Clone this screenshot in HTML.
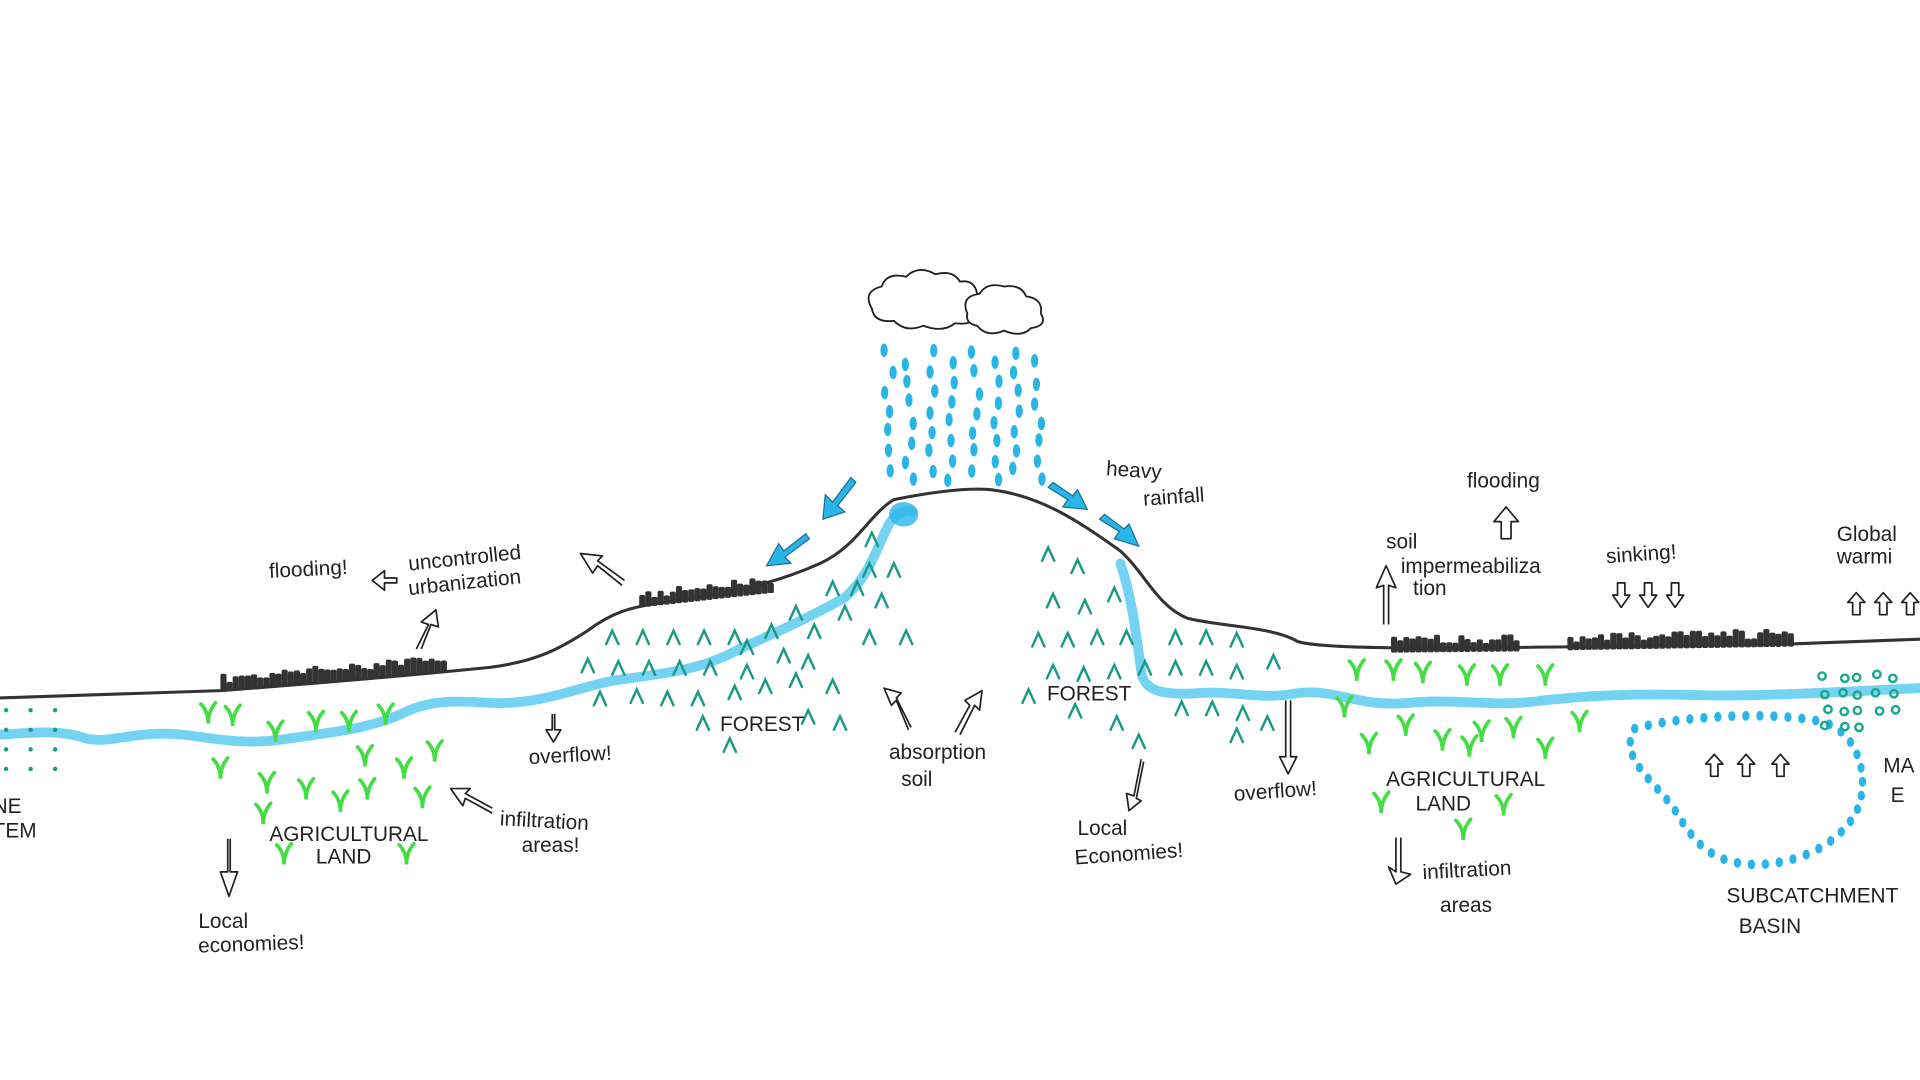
<!DOCTYPE html>
<html><head><meta charset="utf-8">
<style>
html,body{margin:0;padding:0;background:#fff;width:1920px;height:1080px;overflow:hidden}
svg{display:block}
text{font-family:"Liberation Sans",sans-serif;fill:#222;font-size:17px}
</style></head><body>
<svg id="s" width="1920" height="1080" viewBox="0 0 1568 882" preserveAspectRatio="none" xmlns="http://www.w3.org/2000/svg">
<rect width="1568" height="882" fill="#fff"/>
<!-- cloud -->
<g fill="#fff" stroke="#222" stroke-width="1.5">
<path d="M712,252 q-8,-14 8,-18 q4,-12 20,-8 q10,-10 24,-2 q14,-4 20,6 q12,-2 14,10 q10,6 2,16 q-4,10 -20,8 q-10,8 -26,2 q-14,6 -24,-4 q-16,2 -18,-10z"/>
<path d="M790,256 q-6,-14 10,-16 q6,-10 20,-6 q14,-2 18,8 q14,2 12,14 q6,10 -8,12 q-8,8 -22,2 q-14,6 -22,-4 q-10,-2 -8,-10z"/>
</g>
<!-- river -->
<g fill="none" stroke="#5ccbf0" stroke-width="8" stroke-linecap="round" stroke-linejoin="round" opacity="0.85">
<path d="M0,600 C30,598 50,596 70,603 C90,608 110,596 150,600 C180,604 200,608 230,604 C270,598 300,596 330,582 C350,572 370,572 400,574 C440,576 470,562 500,556 C540,550 570,548 600,532 C630,518 660,505 690,488 C710,470 715,450 725,430 C730,420 740,415 745,418"/>
<path d="M915,460 C925,490 928,520 932,548 C934,565 950,568 980,566 C1010,564 1030,572 1060,566 C1090,562 1110,578 1150,574 C1190,570 1220,578 1260,572 C1300,568 1330,566 1400,568 C1460,568 1520,564 1568,562"/>
</g>
<ellipse cx="738" cy="420" rx="12" ry="10" fill="#2ab5e8" opacity="0.8"/>
<!-- ground -->
<path d="M0,570 L180,564 C260,558 330,552 400,545 C440,540 460,528 480,515 C500,500 515,496 540,492 C590,486 630,478 670,460 C700,446 710,420 730,408 C760,402 790,398 810,400 C850,405 880,425 915,450 C935,468 945,495 970,505 C1000,512 1040,512 1060,524 C1080,530 1160,530 1300,528 L1460,526 L1568,522" fill="none" stroke="#333" stroke-width="2.5" stroke-linejoin="round"/>
<g id="bld" fill="#333"></g>
<g id="drops" fill="#2ab5e8"></g>
<g id="trees" fill="none" stroke="#1a9a86" stroke-width="2" stroke-linecap="round"></g>
<g id="crops" fill="none" stroke="#44dd44" stroke-width="3" stroke-linecap="round"></g>
<g id="basin" fill="#2ab5e8"></g>
<g id="marsh" fill="none" stroke="#1aa88a" stroke-width="2"></g>
<!-- blue arrows -->
<g fill="#2ab5e8" stroke="#1a6f8f" stroke-width="1">
<path d="M695,390 L680,410 L674,404 L672,424 L690,418 L684,413 L699,394z"/>
<path d="M658,436 L640,450 L636,444 L626,462 L646,460 L641,455 L661,440z"/>
<path d="M856,398 L872,408 L868,414 L888,416 L880,400 L876,405 L860,394z"/>
<path d="M898,424 L914,434 L910,440 L930,446 L922,428 L918,432 L902,420z"/>
</g>
<!-- outline arrows -->
<g fill="none" stroke="#222" stroke-width="1.4" stroke-linejoin="round">
<path d="M186,685 L186,712 L180,712 L187,732 L194,712 L188,712 L188,685"/>
<path d="M451,583 L451,596 L446,596 L452,606 L458,596 L453,596 L453,583"/>
<path d="M1050,572 L1050,618 L1045,618 L1052,632 L1059,618 L1054,618 L1054,572"/>
<path d="M932,620 L926,650 L920,648 L922,662 L932,654 L928,652 L934,622"/>
<path d="M1140,684 L1140,712 L1134,708 L1140,722 L1152,714 L1144,712 L1144,684"/>
<path d="M742,596 L732,572 L728,576 L722,562 L736,566 L732,570 L744,594"/>
<path d="M780,598 L792,576 L788,572 L802,564 L800,580 L796,576 L784,600"/>
<path d="M402,664 L380,652 L378,658 L368,644 L384,644 L380,648 L402,660"/>
<path d="M508,478 L488,462 L484,468 L474,452 L492,454 L488,458 L510,474"/>
<path d="M340,530 L350,510 L344,508 L356,498 L358,512 L352,510 L344,530"/>
<path d="M324,472 L314,472 L314,466 L304,474 L314,482 L314,476 L324,476z"/>
<path d="M1130,510 L1130,478 L1124,480 L1132,462 L1140,480 L1134,478 L1134,510"/>
<path d="M1226,440 L1226,426 L1220,426 L1230,414 L1240,426 L1234,426 L1234,440z"/>
</g>
<g id="smallarr" fill="none" stroke="#222" stroke-width="1.4" stroke-linejoin="round"></g>
<!-- labels -->
<text x="220" y="472" transform="rotate(-3 220 472)">flooding!</text>
<text x="334" y="466" transform="rotate(-6 334 466)">uncontrolled</text>
<text x="334" y="486" transform="rotate(-6 334 486)">urbanization</text>
<text x="432" y="624" transform="rotate(-3 432 624)">overflow!</text>
<text x="588" y="597" font-size="18">FOREST</text>
<text x="726" y="620">absorption</text>
<text x="736" y="642">soil</text>
<text x="903" y="388" transform="rotate(4 903 388)">heavy</text>
<text x="934" y="413" transform="rotate(-4 934 413)">rainfall</text>
<text x="855" y="572" font-size="16">FOREST</text>
<text x="880" y="682">Local</text>
<text x="878" y="706" transform="rotate(-4 878 706)">Economies!</text>
<text x="1008" y="654" transform="rotate(-4 1008 654)">overflow!</text>
<text x="1198" y="398">flooding</text>
<text x="1132" y="448" font-size="15">soil</text>
<text x="1144" y="468" font-size="15">impermeabiliza</text>
<text x="1154" y="486" font-size="15">tion</text>
<text x="1312" y="460" transform="rotate(-4 1312 460)">sinking!</text>
<text x="1500" y="442">Global</text>
<text x="1500" y="460">warmi</text>
<text x="1132" y="642" font-size="14">AGRICULTURAL</text>
<text x="1156" y="662" font-size="14">LAND</text>
<text x="1162" y="718" transform="rotate(-3 1162 718)">infiltration</text>
<text x="1176" y="745">areas</text>
<text x="1410" y="737" font-size="15">SUBCATCHMENT</text>
<text x="1420" y="762" font-size="15">BASIN</text>
<text x="1538" y="631" font-size="15">MA</text>
<text x="1544" y="655" font-size="15">E</text>
<text x="220" y="687" font-size="15">AGRICULTURAL</text>
<text x="258" y="705" font-size="15">LAND</text>
<text x="408" y="674" transform="rotate(3 408 674)">infiltration</text>
<text x="426" y="696">areas!</text>
<text x="162" y="758">Local</text>
<text x="162" y="778" transform="rotate(-2 162 778)">economies!</text>
<text x="-6" y="664" font-size="14">NE</text>
<text x="-6" y="684" font-size="14">TEM</text>
</svg>
<script>
var NS="http://www.w3.org/2000/svg";
function el(p,t,a){var e=document.createElementNS(NS,t);for(var k in a)e.setAttribute(k,a[k]);document.getElementById(p).appendChild(e);return e;}
function r(s){var x=Math.sin(s*12.9898)*43758.5453;return x-Math.floor(x);}
function blds(x0,x1,y0,y1){for(var x=x0;x<x1;x+=5){var y=y0+(y1-y0)*(x-x0)/(x1-x0);var h=5+r(x)*8;el("bld","rect",{x:x,y:y-h,width:5,height:h+2,rx:1.5});}}
blds(180,365,563,547);blds(522,630,494,482);blds(1136,1240,531,530);blds(1280,1465,529,526);
var cols=[726,742,760,778,796,812,830,848];
for(var i=0;i<cols.length;i++){for(var j=0;j<7;j++){var x=cols[i]+(r(i*7+j)-0.5)*8,y=286+j*16+(i%2)*8+r(j*3+i)*4;if(y>395)continue;el("drops","ellipse",{cx:x,cy:y,rx:3,ry:5.5});}}
function caret(x,y){el("trees","path",{d:"M"+(x-5)+","+(y+6)+" L"+x+","+(y-5)+" L"+(x+5)+","+(y+6)});}
[[500,520],[525,520],[550,520],[575,520],[600,520],[480,543],[505,545],[530,545],[555,545],[580,545],[610,548],[640,535],[665,515],[690,500],[700,480],[730,465],[710,465],[680,480],[650,500],[630,515],[490,570],[520,568],[545,570],[570,570],[600,565],[625,560],[650,555],[680,560],[720,490],[740,520],[710,520],[660,585],[686,590],[574,590],[596,608],[712,440],[660,540],[610,528]].forEach(function(p){caret(p[0],p[1]);});
[[856,452],[880,462],[860,490],[886,495],[910,485],[848,522],[872,522],[896,520],[920,520],[860,548],[885,550],[910,548],[935,545],[960,520],[985,520],[1010,522],[960,545],[985,545],[1010,548],[1040,540],[965,578],[990,578],[1015,582],[840,568],[878,580],[912,590],[930,605],[1010,600],[1035,590]].forEach(function(p){caret(p[0],p[1]);});
function crop(x,y){el("crops","path",{d:"M"+(x-6)+","+(y-8)+" Q"+x+","+(y-2)+" "+x+","+(y+8)+" Q"+x+","+(y-2)+" "+(x+6)+","+(y-9)});}
[[170,583],[190,585],[225,598],[258,590],[285,590],[315,584],[180,628],[218,640],[250,645],[278,655],[300,645],[330,628],[355,614],[215,665],[345,652],[232,698],[332,698],[298,618],[1108,548],[1138,548],[1162,550],[1198,552],[1225,552],[1262,552],[1098,578],[1148,593],[1178,605],[1210,598],[1236,595],[1262,612],[1290,590],[1118,608],[1200,610],[1128,656],[1228,658],[1195,678]].forEach(function(p){crop(p[0],p[1]);});
// basin: path-shaped dots
var bp=document.createElementNS(NS,"path");
bp.setAttribute("d","M1335,595 C1370,585 1450,580 1490,590 C1520,600 1528,640 1515,665 C1500,690 1470,705 1435,706 C1400,706 1385,690 1370,665 C1355,640 1320,620 1335,595z");
document.getElementById("s").appendChild(bp);
var L=bp.getTotalLength();
for(var t=0;t<44;t++){var p=bp.getPointAtLength(t/44*L);el("basin","ellipse",{cx:p.x,cy:p.y,rx:3,ry:4});}
bp.remove();
for(var i=0;i<18;i++){el("marsh","circle",{cx:1488+(i%5)*14+r(i)*5,cy:550+Math.floor(i/5)*14+r(i+9)*4,r:3});}
for(var i=0;i<12;i++){el("trees","circle",{cx:5+(i%3)*20,cy:580+Math.floor(i/3)*16,r:0.8});}
function up(x,y){el("smallarr","path",{d:"M"+(x-3)+","+(y+18)+" L"+(x-3)+","+(y+8)+" L"+(x-7)+","+(y+8)+" L"+x+","+y+" L"+(x+7)+","+(y+8)+" L"+(x+3)+","+(y+8)+" L"+(x+3)+","+(y+18)+"z"});}
function down(x,y){el("smallarr","path",{d:"M"+(x-3)+","+y+" L"+(x-3)+","+(y+10)+" L"+(x-7)+","+(y+10)+" L"+x+","+(y+20)+" L"+(x+7)+","+(y+10)+" L"+(x+3)+","+(y+10)+" L"+(x+3)+","+y+"z"});}
down(1324,476);down(1346,476);down(1368,476);up(1516,484);up(1538,484);up(1560,484);up(1400,616);up(1426,616);up(1454,616);
</script>
</body></html>
